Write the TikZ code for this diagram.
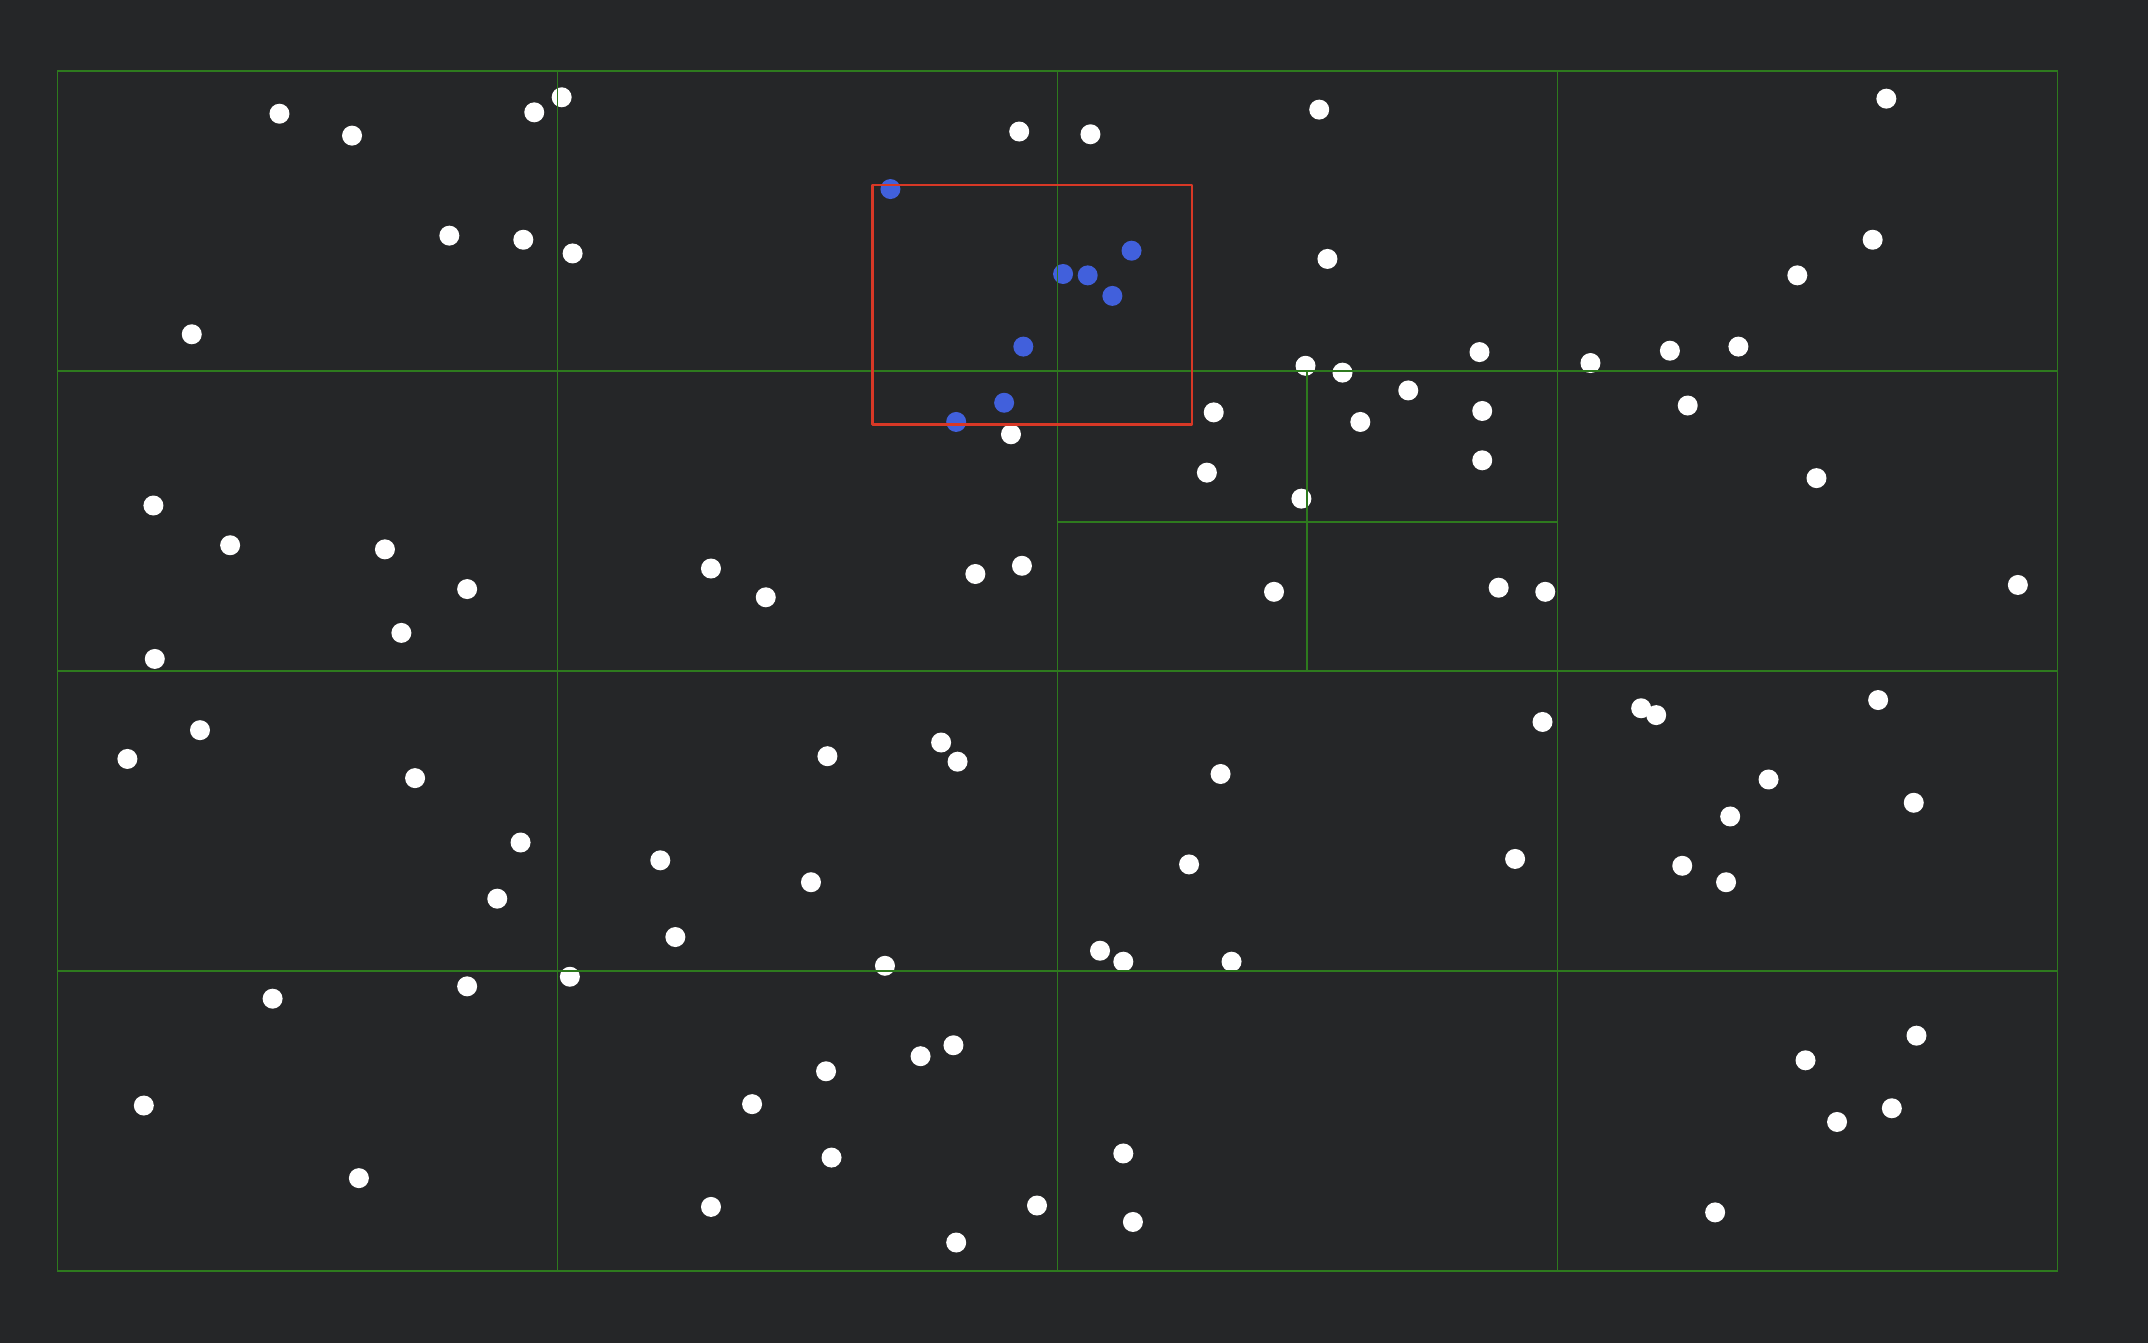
\documentclass[tikz,border=0pt]{standalone}
\definecolor{bgdark}{RGB}{37,38,40}
\definecolor{gridgreen}{RGB}{46,122,30}
\definecolor{rangered}{RGB}{216,56,38}
\definecolor{hitblue}{RGB}{65,96,220}
\tikzset{
  pt/.style={fill=white},
  hit/.style={fill=hitblue},
  cell/.style={gridgreen, line width=0.5pt},
  query/.style={rangered, line width=0.7pt, line join=round}
}
\begin{document}
\begin{tikzpicture}[x=0.0137cm, y=-0.0137cm]
  \fill[bgdark] (0,0) rectangle (1568,980);
  \useasboundingbox (0,0) rectangle (1568,980);

  % points outside the query range
  \foreach \px/\py in {204/83, 257/99, 390/82, 410/71, 328/172, 382/175, 418/185, 140/244,
      744/96, 796/98, 963/80, 969/189, 1080/257,
      1377/72, 1367/175, 1312/201, 1161/265, 1219/256, 1269/253,
      112/369, 168/398, 281/401, 341/430, 293/462, 113/481,
      738/317, 519/415, 559/436, 712/419, 746/413,
      953/267, 980/272, 886/301, 1028/285, 1082/300, 993/308, 881/345, 1082/336, 950/364,
      930/432, 1094/429, 1128/432,
      1232/296, 1326/349, 1473/427,
      93/554, 146/533, 303/568, 380/615, 363/656,
      604/552, 687/542, 699/556, 482/628, 592/644, 493/684, 646/705,
      891/565, 868/631, 1126/527, 1106/627, 803/694, 820/702, 899/702,
      1198/517, 1209/522, 1371/511, 1291/569, 1263/596, 1397/586, 1228/632, 1260/644,
      199/729, 341/720, 105/807, 262/860,
      416/713, 672/771, 696/763, 603/782, 549/806, 607/845, 519/881, 757/880, 698/907,
      820/842, 827/892,
      1399/756, 1318/774, 1381/809, 1341/819, 1252/885}
    \fill[pt] (\px,\py) circle (7.3);

  % points found by the query
  \foreach \px/\py in {650/138, 826/183, 776/200, 794/201, 812/216, 747/253, 733/294, 698/308}
    \fill[hit] (\px,\py) circle (7.3);

  % quadtree cells
  \draw[cell] (42,52) rectangle (1502,928);
  \foreach \gx in {407,772,1137}
    \draw[cell] (\gx,52) -- (\gx,928);
  \foreach \gy in {271,490,709}
    \draw[cell] (42,\gy) -- (1502,\gy);
  \draw[cell] (954,271) -- (954,490);
  \draw[cell] (772,381) -- (1137,381);

  % query range
  \draw[query] (637,135) rectangle (870,310);
\end{tikzpicture}
\end{document}
